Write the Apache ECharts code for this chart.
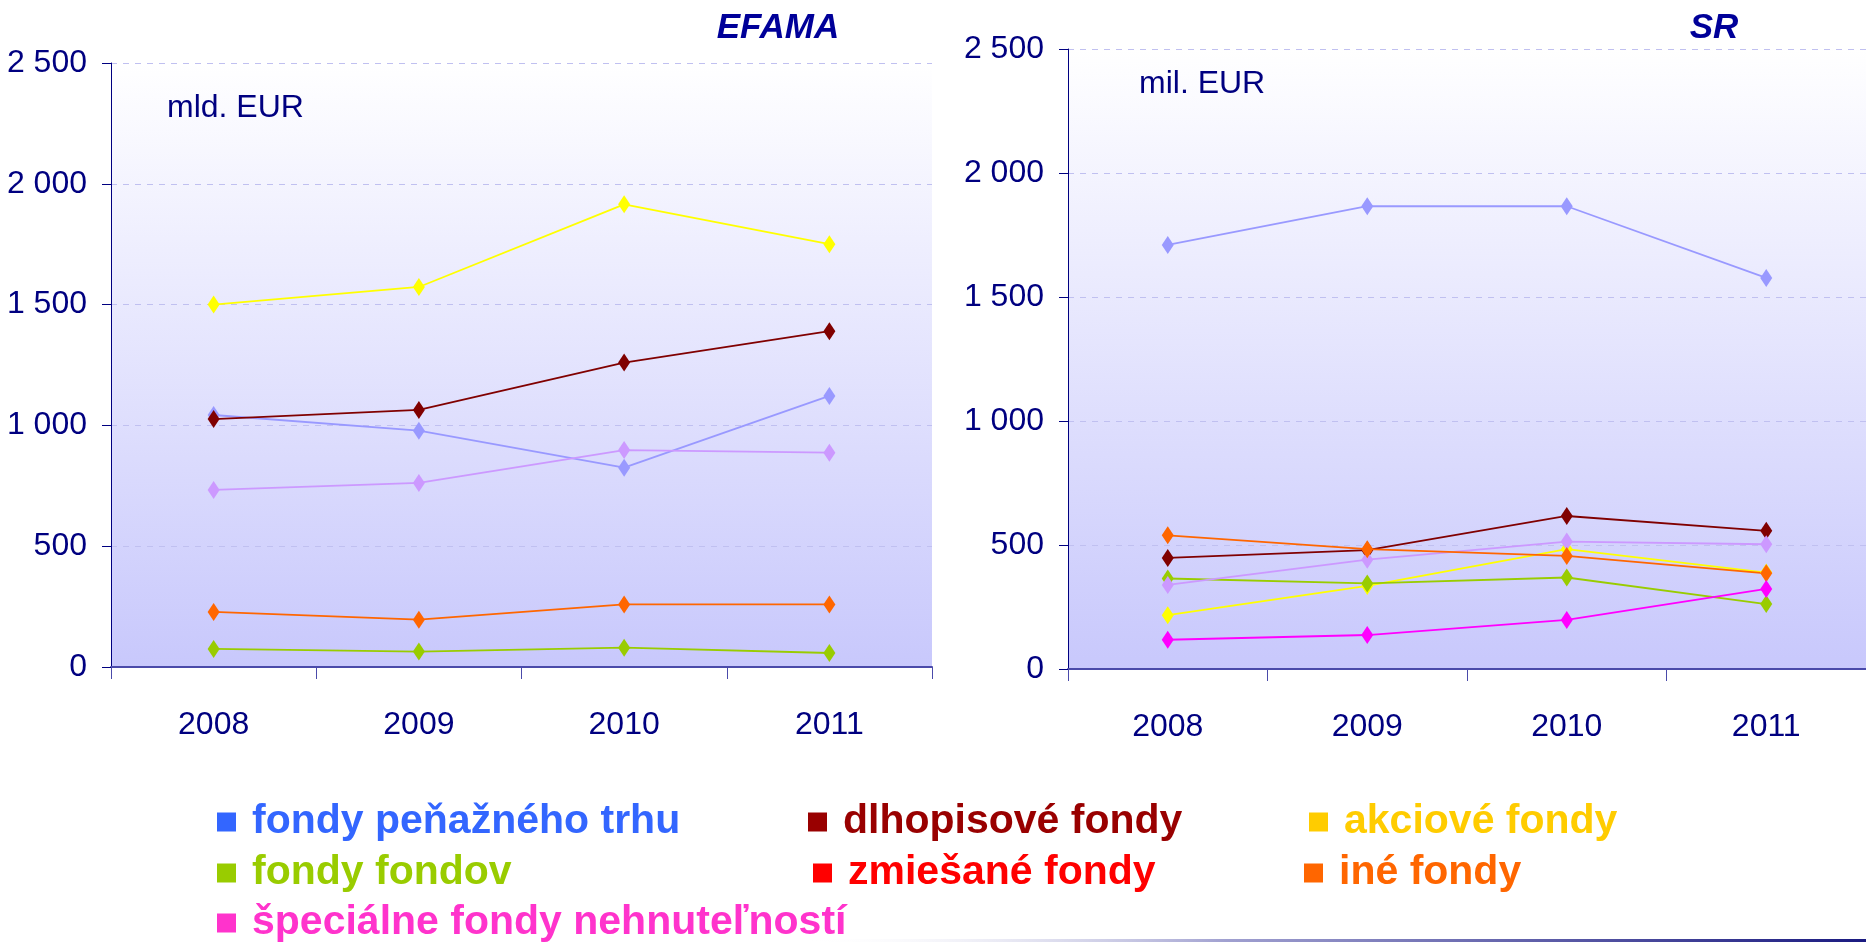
<!DOCTYPE html>
<html>
<head>
<meta charset="utf-8">
<title>EFAMA / SR</title>
<script src="https://cdn.jsdelivr.net/npm/echarts@6/dist/echarts.min.js"></script>
<style>
  html, body { margin: 0; padding: 0; background: #fff; }
  #chart { width: 1866px; height: 942px; }
</style>
</head>
<body>
<div id="chart"></div>
<script>
// roky
let years = ['2008', '2009', '2010', '2011'];

// EFAMA (mld. EUR)
let efamaPenazne  = [1043, 978, 825, 1122];
let efamaDlhopis  = [1026, 1064, 1260, 1390];
let efamaAkcie    = [1500, 1573, 1915, 1750];
let efamaFondov   = [75, 64, 80, 58];
let efamaZmiesane = [733, 762, 898, 887];
let efamaIne      = [228, 196, 259, 259];

// SR (mil. EUR)
let srPenazne  = [1710, 1866, 1866, 1577];
let srDlhopis  = [448, 479, 617, 557];
let srAkcie    = [217, 335, 483, 389];
let srFondov   = [365, 345, 369, 262];
let srZmiesane = [339, 441, 514, 503];
let srIne      = [539, 483, 456, 386];
let srNehnut   = [118, 137, 198, 323];

// nazvy kategorii, farby ciar a farby v legende
let names = ['fondy peňažného trhu', 'dlhopisové fondy', 'akciové fondy', 'fondy fondov',
             'zmiešané fondy', 'iné fondy', 'špeciálne fondy nehnuteľností'];
let lineColors   = ['#9999ff', '#800000', '#ffff00', '#99cc00', '#cc99ff', '#ff6600', '#ff00ff'];
let legendColors = ['#3366ff', '#990000', '#ffcc00', '#99cc00', '#ff0000', '#ff6600', '#ff33cc'];

let NARROW = '"Liberation Sans Narrow", "Arial Narrow", "Liberation Sans", sans-serif';
let NAVY = '#000080';
let LBL = 32;

function fmt(v){
  if (v >= 1000) return Math.floor(v / 1000) + ' ' + String(v % 1000).padStart(3, '0');
  return String(v);
}

function plotBg(){
  return new echarts.graphic.LinearGradient(0, 0, 0, 1, [
    { offset: 0, color: '#ffffff' },
    { offset: 1, color: '#c8c8fc' }
  ]);
}

function xAxisFor(i){
  return {
    type: 'category', gridIndex: i, data: years, boundaryGap: true,
    axisLine: { lineStyle: { color: '#4a4aaa', width: 2 } },
    axisTick: { show: true, length: 12, lineStyle: { color: '#4a4aaa', width: 1 } },
    axisLabel: { margin: 42, color: NAVY, fontSize: LBL, fontFamily: NARROW },
    splitLine: { show: false }
  };
}

function yAxisFor(i){
  return {
    type: 'value', gridIndex: i, min: 0, max: 2500, interval: 500,
    axisLine: { show: true, lineStyle: { color: NAVY, width: 1 } },
    axisTick: { show: true, length: 9, lineStyle: { color: NAVY } },
    axisLabel: { margin: 24, color: NAVY, fontSize: LBL, fontFamily: NARROW, formatter: fmt },
    splitLine: { show: true, lineStyle: { color: '#c0c0f0', type: [6, 6], width: 1 } }
  };
}

function line(idx, gi, data){
  return {
    name: names[idx], type: 'line', xAxisIndex: gi, yAxisIndex: gi, data: data,
    symbol: 'diamond', symbolSize: [12, 18], showAllSymbol: true,
    lineStyle: { color: lineColors[idx], width: 1.8 },
    itemStyle: { color: lineColors[idx] },
    emphasis: { disabled: true }
  };
}

// legenda - kazda polozka zvlast (ako v povodnom obrazku)
let legendPos = [[217, 798], [808, 798], [1309, 798], [217, 849], [813, 849], [1304, 849], [217, 899]];
let legends = names.map(function(n, i){
  return {
    left: legendPos[i][0], top: legendPos[i][1], padding: 0,
    icon: 'rect', itemWidth: 19, itemHeight: 19,
    selectedMode: false,
    data: [{ name: n, itemStyle: { color: legendColors[i] }, textStyle: { color: legendColors[i] } }],
    textStyle: { fontSize: 41, fontWeight: 'bold', fontFamily: '"Liberation Sans", Arial, sans-serif',
                 lineHeight: 48, padding: [0, 0, 0, 11] }
  };
});

let option = {
  animation: false,
  backgroundColor: '#ffffff',
  grid: [
    { left: 111, top: 63, width: 821, height: 604, show: true, borderWidth: 0, backgroundColor: plotBg() },
    { left: 1068, top: 49, width: 809, height: 620, show: true, borderWidth: 0, backgroundColor: plotBg() }
  ],
  xAxis: [xAxisFor(0), xAxisFor(1)],
  yAxis: [yAxisFor(0), yAxisFor(1)],
  legend: legends,
  graphic: [
    { type: 'text', x: 778, y: 28, style: { text: 'EFAMA', font: 'italic bold 35px "Liberation Sans", Arial, sans-serif', fill: '#000099', align: 'center', verticalAlign: 'middle' } },
    { type: 'text', x: 1714, y: 28, style: { text: 'SR', font: 'italic bold 35px "Liberation Sans", Arial, sans-serif', fill: '#000099', align: 'center', verticalAlign: 'middle' } },
    { type: 'text', x: 167, y: 108, style: { text: 'mld. EUR', font: LBL + 'px ' + NARROW, fill: NAVY, align: 'left', verticalAlign: 'middle' } },
    { type: 'text', x: 1139, y: 84, style: { text: 'mil. EUR', font: LBL + 'px ' + NARROW, fill: NAVY, align: 'left', verticalAlign: 'middle' } },
    { type: 'rect', shape: { x: 800, y: 939, width: 1066, height: 3 },
      style: { fill: new echarts.graphic.LinearGradient(0, 0, 1, 0, [
        { offset: 0, color: 'rgba(255,255,255,0)' }, { offset: 0.4, color: '#a0a0d0' }, { offset: 1, color: '#1a1a80' }
      ]) } }
  ],
  series: [
    line(0, 0, efamaPenazne),
    line(1, 0, efamaDlhopis),
    line(2, 0, efamaAkcie),
    line(3, 0, efamaFondov),
    line(4, 0, efamaZmiesane),
    line(5, 0, efamaIne),
    line(0, 1, srPenazne),
    line(1, 1, srDlhopis),
    line(2, 1, srAkcie),
    line(3, 1, srFondov),
    line(4, 1, srZmiesane),
    line(5, 1, srIne),
    line(6, 1, srNehnut)
  ]
};

let myChart = echarts.init(document.getElementById('chart'));
myChart.setOption(option);
</script>
</body>
</html>
